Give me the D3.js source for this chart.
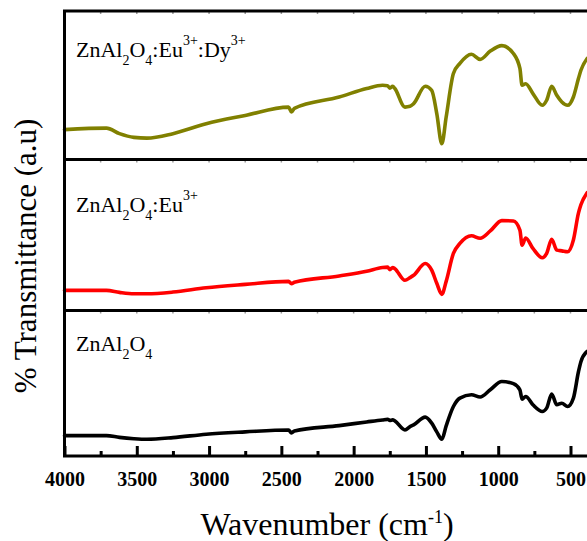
<!DOCTYPE html>
<html lang="en">
<meta charset="utf-8">
<head>
<title>FTIR spectra</title>
<style>
  body { margin: 0; background: #fff; }
  svg { display: block; font-family: "Liberation Serif", "Times New Roman", serif; }
  .line { fill: none; stroke-width: 3.6px; stroke-linejoin: round; stroke-linecap: round; }
  .frame { fill: none; stroke: #000; stroke-width: 3px; }
  .axis line { stroke: #000; stroke-width: 3px; }
  .axis path { display: none; }
</style>
</head>
<body>
<svg width="587" height="541"></svg>
<script src="https://cdnjs.cloudflare.com/ajax/libs/d3/7.8.5/d3.min.js"></script>
<script>

// wavenumber (cm-1) sample points
var wavenumbers = [4000, 3710, 3620, 3520, 3430, 3250, 3020, 2750, 2450, 2430, 2410, 2100,
  1910, 1800, 1765, 1750, 1730, 1715, 1645, 1610, 1585, 1505, 1460, 1425, 1390, 1360,
  1310, 1265, 1185, 1125, 1055, 975, 895, 850, 835, 810, 760, 695, 665, 630, 595, 560,
  520, 480, 445, 428, 385];

// transmittance (a.u., 0-100 within each panel)
var euDy = [20.1, 21.1, 17.4, 14.9, 14.4, 17.4, 24.1, 29.7, 35.3, 32.0, 34.5, 42.1,
  47.8, 50.0, 49.7, 48.0, 49.3, 47.8, 35.3, 35.8, 37.6, 49.3, 46.6, 30.9, 10.6, 28.6,
  57.9, 64.7, 70.9, 67.4, 73.0, 76.7, 71.4, 61.3, 50.0, 51.0, 44.4, 36.5, 39.9, 49.3, 43.2, 38.7,
  36.5, 42.1, 54.5, 60.1, 68.0];

var eu = [13.3, 13.3, 12.0, 11.1, 11.1, 12.2, 15.1, 17.3, 19.3, 17.8, 18.7, 22.9,
  26.0, 28.5, 28.7, 27.1, 28.5, 27.7, 20.0, 21.8, 23.3, 31.1, 26.7, 18.0, 10.7, 19.3,
  37.8, 44.4, 49.5, 47.8, 52.7, 59.5, 59.3, 53.3, 43.3, 48.0, 41.1, 34.9, 37.8, 47.1, 40.0, 39.5,
  38.9, 46.7, 64.5, 70.0, 78.0];

var pure = [14.0, 14.0, 12.8, 11.9, 11.5, 12.6, 15.0, 16.6, 17.9, 15.9, 17.2, 20.9,
  23.4, 24.8, 25.2, 24.5, 24.8, 24.1, 17.9, 20.2, 21.4, 26.7, 22.6, 16.6, 11.5, 20.7,
  34.0, 39.8, 42.1, 40.5, 45.5, 51.2, 49.7, 45.5, 39.1, 40.9, 35.2, 30.6, 32.9, 42.6, 35.2, 36.3,
  34.0, 39.8, 57.9, 64.8, 71.9];

var seriesColors = ["#808000", "#ff0000", "#000000"];

// sample names as [text, kind] pieces
var sampleNames = [
  [["ZnAl", ""], ["2", "sub"], ["O", ""], ["4", "sub"], [":Eu", ""], ["3+", "sup"], [":Dy", ""], ["3+", "sup"]],
  [["ZnAl", ""], ["2", "sub"], ["O", ""], ["4", "sub"], [":Eu", ""], ["3+", "sup"]],
  [["ZnAl", ""], ["2", "sub"], ["O", ""], ["4", "sub"]]
];

var majorTicks = [4000, 3500, 3000, 2500, 2000, 1500, 1000, 500];
var minorTicks = [3750, 3250, 2750, 2250, 1750, 1250, 750];

var svg = d3.select("svg");

var panelEdges = [11, 159.5, 310.5, 456];
var left = 64.5, frameRight = 620;

var x = d3.scaleLinear().domain([4000, 500]).range([left, 570.5]);

var series = [euDy, eu, pure];
var labelOffsets = [46, 52, 40];

series.forEach(function(vals, i) {
  var top = panelEdges[i], bottom = panelEdges[i + 1];
  var y = d3.scaleLinear().domain([0, 100]).range([bottom, top]);

  var line = d3.line()
      .curve(d3.curveMonotoneX)
      .x(function(d) { return x(d[0]); })
      .y(function(d) { return y(d[1]); });

  var pts = wavenumbers.map(function(w, j) { return [w, vals[j]]; });

  svg.append("path")
      .attr("class", "line")
      .attr("d", line(pts))
      .style("stroke", seriesColors[i]);

  // little marks on the panel's top edge
  svg.append("g")
    .selectAll("line")
    .data(majorTicks.concat(minorTicks))
    .enter().append("line")
      .attr("x1", function(d) { return x(d); })
      .attr("x2", function(d) { return x(d); })
      .attr("y1", top + 1)
      .attr("y2", top + 3)
      .attr("stroke", "#999")
      .attr("stroke-width", 1.5);

  svg.append("rect")
      .attr("class", "frame")
      .attr("x", left)
      .attr("y", top)
      .attr("width", frameRight - left)
      .attr("height", bottom - top);

  var t = svg.append("text")
      .attr("x", 76)
      .attr("y", top + labelOffsets[i])
      .style("font-size", "22px");

  var shift = 0;
  sampleNames[i].forEach(function(p) {
    var target = p[1] == "sub" ? 8 : p[1] == "sup" ? -12 : 0;
    t.append("tspan")
        .attr("dy", target - shift)
        .style("font-size", p[1] ? "14px" : "22px")
        .text(p[0]);
    shift = target;
  });
});

// bottom axis, ticks inward
var axisY = panelEdges[3];

var gx = svg.append("g")
    .attr("class", "axis")
    .attr("transform", "translate(0," + axisY + ")")
    .call(d3.axisBottom(x).tickValues(majorTicks).tickSize(-10).tickPadding(16).tickFormat(d3.format("d")));

gx.attr("font-family", null).attr("font-size", null);
gx.selectAll("text")
    .style("font-family", "'Liberation Serif', 'Times New Roman', serif")
    .style("font-weight", "bold")
    .style("font-size", "20px")
    .style("fill", "#000");

svg.append("g")
    .attr("class", "axis")
    .attr("transform", "translate(0," + axisY + ")")
    .call(d3.axisBottom(x).tickValues(minorTicks).tickSize(-5).tickFormat(""));

// axis titles
svg.append("text")
    .attr("transform", "rotate(-90)")
    .attr("x", -256)
    .attr("y", 36)
    .attr("text-anchor", "middle")
    .style("font-size", "31px")
    .text("% Transmittance (a.u)");

var xt = svg.append("text")
    .attr("x", 327)
    .attr("y", 535)
    .attr("text-anchor", "middle")
    .style("font-size", "32px");
xt.append("tspan").text("Wavenumber (cm");
xt.append("tspan").attr("dy", -12).style("font-size", "18px").text("-1");
xt.append("tspan").attr("dy", 12).text(")");

</script>
</body>
</html>
